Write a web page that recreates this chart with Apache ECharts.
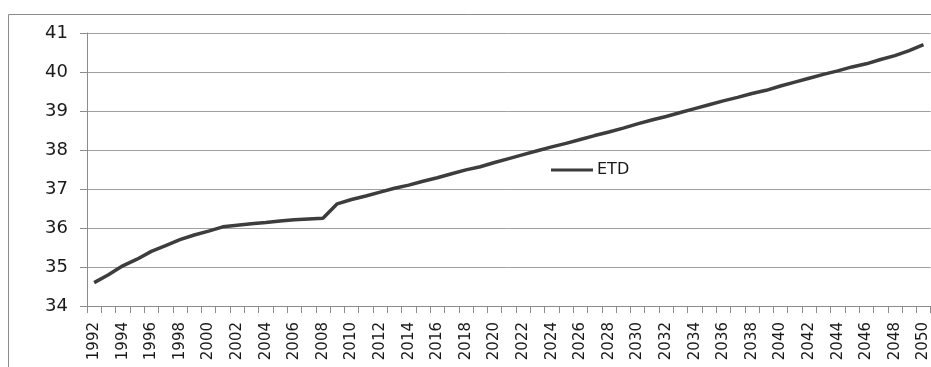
<!DOCTYPE html>
<html>
<head>
<meta charset="utf-8">
<script src="https://cdn.jsdelivr.net/npm/echarts@6/dist/echarts.min.js"></script>
<style>
  html, body { margin: 0; padding: 0; background: #fff; }
  #chart { width: 931px; height: 367px; }
</style>
</head>
<body>
<div id="chart"></div>
<script>
// 年份 1992 - 2050
const years = []
for (let y = 1992; y <= 2050; y++) years.push(String(y))

// ETD 数值
const etdValues = [
  34.60, 34.80, 35.03, 35.20, 35.40, 35.55, 35.70, 35.82, 35.92, 36.03,
  36.07, 36.11, 36.14, 36.18, 36.21, 36.23, 36.25, 36.62, 36.73, 36.82,
  36.92, 37.02, 37.10, 37.20, 37.29, 37.39, 37.49, 37.57, 37.68, 37.78,
  37.88, 37.98, 38.08, 38.17, 38.27, 38.37, 38.46, 38.56, 38.67, 38.77,
  38.86, 38.96, 39.06, 39.16, 39.26, 39.35, 39.45, 39.53, 39.64, 39.74,
  39.84, 39.94, 40.03, 40.13, 40.21, 40.32, 40.42, 40.55, 40.70
]

const yTicks = [34, 35, 36, 37, 38, 39, 40, 41]

const chart = echarts.init(document.getElementById('chart'))
const font = 'DejaVu Sans'

const option = {
  animation: false,
  backgroundColor: '#fff',
  // 外框
  graphic: [
    {
      type: 'polyline',
      shape: { points: [[8.5, 367], [8.5, 14.5], [931, 14.5]] },
      style: { stroke: '#8c8c8c', lineWidth: 1, fill: null },
      silent: true
    }
  ],
  grid: {
    left: 87,
    top: 33,
    right: 0,
    bottom: 61
  },
  legend: {
    data: ['ETD'],
    left: 546,
    top: 160,
    width: 327,
    padding: [2, 5, 2, 5],
    backgroundColor: '#ffffff',
    itemWidth: 42,
    itemHeight: 3,
    itemGap: 5,
    icon: 'rect',
    textStyle: { fontFamily: font, fontSize: 16, color: '#1a1a1a', padding: [0, 0, 0, -1] }
  },
  xAxis: {
    type: 'category',
    data: years,
    boundaryGap: true,
    axisLine: { lineStyle: { color: '#8c8c8c', width: 1 } },
    axisTick: { show: true, interval: 0, length: 7, lineStyle: { color: '#8c8c8c' } },
    axisLabel: {
      interval: 1,
      rotate: 90,
      margin: 16,
      fontFamily: font,
      fontSize: 15,
      color: '#1a1a1a'
    },
    splitLine: { show: false }
  },
  yAxis: {
    type: 'value',
    min: yTicks[0],
    max: yTicks[yTicks.length - 1],
    interval: 1,
    axisLine: { show: true, lineStyle: { color: '#8c8c8c', width: 1 } },
    axisTick: { show: true, length: 7, lineStyle: { color: '#8c8c8c' } },
    axisLabel: {
      margin: 19,
      fontFamily: font,
      fontSize: 18,
      color: '#1a1a1a'
    },
    splitLine: { show: true, lineStyle: { color: '#a0a0a0', width: 1 } }
  },
  series: [
    {
      name: 'ETD',
      type: 'line',
      data: etdValues,
      symbol: 'none',
      color: '#3d3d3d',
      lineStyle: { color: '#3d3d3d', width: 3.5 }
    }
  ]
}

chart.setOption(option)
</script>
</body>
</html>
